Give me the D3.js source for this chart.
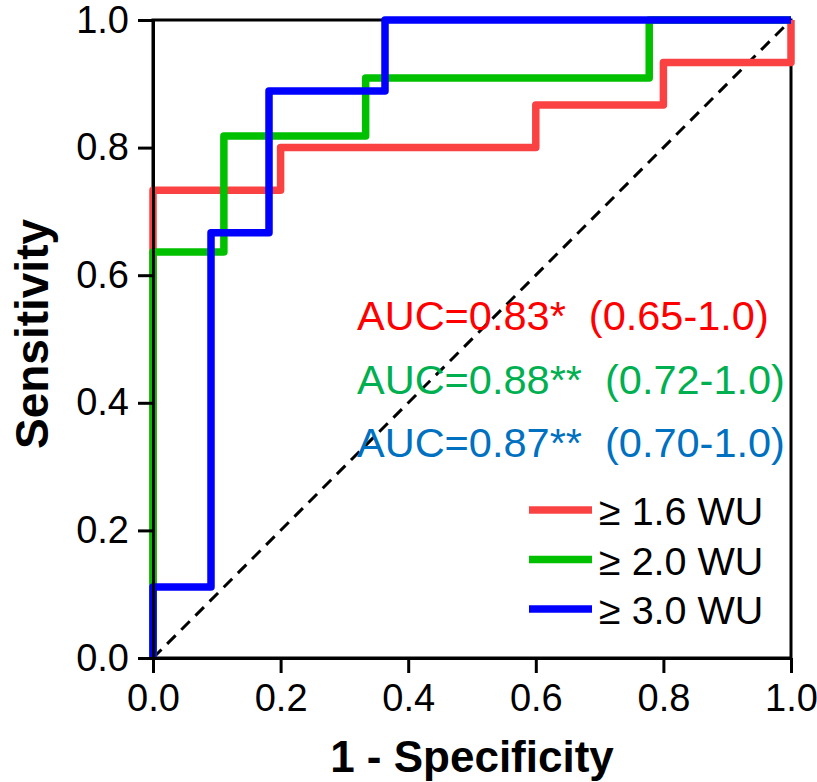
<!DOCTYPE html>
<html>
<head>
<meta charset="utf-8">
<script src="https://cdn.jsdelivr.net/npm/d3@7"></script>
<style>
  body { margin: 0; background: #fff; }
  text { font-family: "Liberation Sans", Arial, sans-serif; }
</style>
</head>
<body>
<div id="chart"></div>
<script>
// ROC points: [1 - specificity, sensitivity]
var roc16 = [[0, 0], [0, 11/15], [0.2, 11/15], [0.2, 12/15], [0.6, 12/15], [0.6, 13/15],
             [0.8, 13/15], [0.8, 14/15], [1, 14/15], [1, 1]];
var roc20 = [[0, 0], [0, 7/11], [1/9, 7/11], [1/9, 9/11], [3/9, 9/11], [3/9, 10/11],
             [7/9, 10/11], [7/9, 1], [1, 1]];
var roc30 = [[0, 0], [0, 1/9], [1/11, 1/9], [1/11, 6/9], [2/11, 6/9], [2/11, 8/9],
             [4/11, 8/9], [4/11, 1], [1, 1]];

var seriesNames = ["\u2265 1.6 WU", "\u2265 2.0 WU", "\u2265 3.0 WU"];
var lineColors = ["#fb4242", "#00c000", "#0000ff"];
var aucLabels = ["AUC=0.83*  (0.65-1.0)", "AUC=0.88**  (0.72-1.0)", "AUC=0.87**  (0.70-1.0)"];
var aucColors = ["#ff0000", "#00b050", "#0070c0"];
var ticks = [0, 0.2, 0.4, 0.6, 0.8, 1.0];

var width = 817, height = 782;
var margin = {left: 153, top: 20, right: 26, bottom: 124};
var w = width - margin.left - margin.right;
var h = height - margin.top - margin.bottom;

var svg = d3.select("#chart").append("svg")
    .attr("width", width)
    .attr("height", height);

var x = d3.scaleLinear().domain([0, 1]).range([0, w]);
var y = d3.scaleLinear().domain([0, 1]).range([h, 0]);

var g = svg.append("g")
    .attr("transform", "translate(" + margin.left + "," + margin.top + ")");

// frame
g.append("rect")
    .attr("x", 0).attr("y", 0)
    .attr("width", w).attr("height", h)
    .style("fill", "none")
    .style("stroke", "#000")
    .style("stroke-width", 3);

// reference diagonal
g.append("line")
    .attr("x1", x(0)).attr("y1", y(0))
    .attr("x2", x(1)).attr("y2", y(1))
    .style("stroke", "#000")
    .style("stroke-width", 3)
    .style("stroke-dasharray", "12,8");

var line = d3.line()
    .x(function(d){ return x(d[0]); })
    .y(function(d){ return y(d[1]); });

[roc16, roc20, roc30].forEach(function(pts, i){
    g.append("path")
        .datum(pts)
        .attr("d", line)
        .style("fill", "none")
        .style("stroke", lineColors[i])
        .style("stroke-width", 7.5)
        .style("stroke-linejoin", "round");
});

// axes
var fmt = d3.format(".1f");
var xAxis = g.append("g")
    .attr("transform", "translate(0," + h + ")")
    .call(d3.axisBottom(x).tickValues(ticks).tickFormat(fmt).tickSize(15).tickSizeOuter(0).tickPadding(11));
var yAxis = g.append("g")
    .call(d3.axisLeft(y).tickValues(ticks).tickFormat(fmt).tickSize(15).tickSizeOuter(0).tickPadding(9));

[xAxis, yAxis].forEach(function(a){
    a.select(".domain").style("stroke", "#000").style("stroke-width", 3);
    a.selectAll(".tick line").style("stroke", "#000").style("stroke-width", 3);
    a.selectAll(".tick text")
        .style("font-family", "'Liberation Sans', Arial, sans-serif")
        .style("font-size", "38px")
        .style("fill", "#000");
});

// axis titles
svg.append("text")
    .attr("x", margin.left + w/2)
    .attr("y", 772)
    .attr("text-anchor", "middle")
    .style("font-size", "44px")
    .style("font-weight", "bold")
    .text("1 - Specificity");

svg.append("text")
    .attr("transform", "translate(48," + 334 + ") rotate(-90)")
    .attr("text-anchor", "middle")
    .style("font-size", "46px")
    .style("font-weight", "bold")
    .text("Sensitivity");

// AUC annotations
aucLabels.forEach(function(t, i){
    svg.append("text")
        .attr("x", 357)
        .attr("y", 330 + i*63.5)
        .style("font-size", "41.5px")
        .style("fill", aucColors[i])
        .style("white-space", "pre")
        .text(t);
});

// legend
seriesNames.forEach(function(name, i){
    var ly = 510 + i*49.5;
    svg.append("line")
        .attr("x1", 529).attr("x2", 592)
        .attr("y1", ly).attr("y2", ly)
        .style("stroke", lineColors[i])
        .style("stroke-width", 7.5);
    svg.append("text")
        .attr("x", 599)
        .attr("y", ly + 15)
        .style("font-size", "39.5px")
        .style("fill", "#000")
        .text(name);
});
</script>
</body>
</html>
